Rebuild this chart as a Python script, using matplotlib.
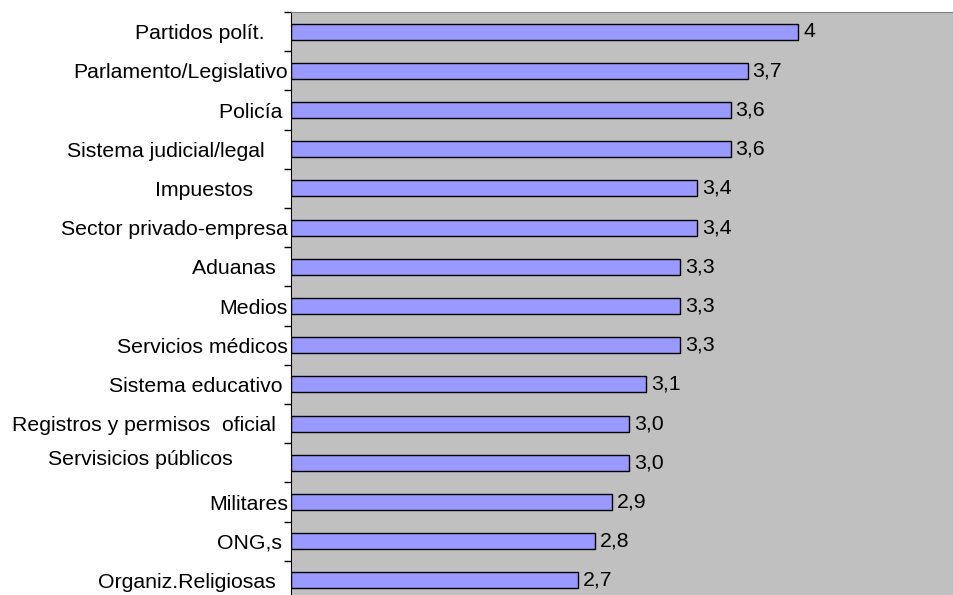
import numpy as np
import matplotlib
matplotlib.use('Agg')
import matplotlib.pyplot as plt
import matplotlib.transforms as mtransforms

plt.rcParams['font.family'] = ['Liberation Sans', 'DejaVu Sans']

# categories (trailing spaces as in the original labels)
categorias = ['Partidos polít.    ', 'Parlamento/Legislativo', 'Policía ',
              'Sistema judicial/legal    ', 'Impuestos      ',
              'Sector privado-empresa', 'Aduanas  ', 'Medios',
              'Servicios médicos', 'Sistema educativo ',
              'Registros y permisos  oficial  ', 'Servisicios públicos',
              'Militares', 'ONG,s ', 'Organiz.Religiosas  ']
valores = [4.0, 3.7, 3.6, 3.6, 3.4, 3.4, 3.3, 3.3, 3.3, 3.1, 3.0, 3.0, 2.9, 2.8, 2.7]
etiquetas = ['4', '3,7', '3,6', '3,6', '3,4', '3,4', '3,3', '3,3', '3,3',
             '3,1', '3,0', '3,0', '2,9', '2,8', '2,7']

fs = 15.3

fig = plt.figure(figsize=(9.54, 5.95), dpi=100)
ax = fig.add_axes([290.7/954, -5/595, 1 - 290.7/954, 588/595])
ax.set_facecolor('#C0C0C0')

y = np.arange(len(valores))
x0 = 1.0
ax.barh(y, np.array(valores) - x0, left=x0, height=0.41,
        color='#9999FF', edgecolor='black', linewidth=1.0)

for yi, v, t in zip(y, valores, etiquetas):
    ax.annotate(t, (v, yi), xytext=(3.5, 0), textcoords='offset points',
                ha='left', va='center', fontsize=fs)

ax.set_xlim(x0, 4.92)
ax.set_ylim(len(valores) - 0.5, -0.5)
ax.set_xticks([])

# category labels, ticks on boundaries
ax.set_yticks(y)
labels = list(categorias)
labels[11] = ''
ax.set_yticklabels(labels, fontsize=fs)
ax.tick_params(axis='y', which='major', length=0, pad=2)
ax.set_yticks(np.arange(len(valores) + 1) - 0.5, minor=True)
ax.tick_params(axis='y', which='minor', length=5, width=1, direction='out')

# the wrapped label sits centered and a bit higher in the original
trans = mtransforms.blended_transform_factory(fig.transFigure, ax.transData)
ax.text(140/954, 11 - 0.08, categorias[11], transform=trans,
        ha='center', va='center', fontsize=fs)

for s in ['right', 'bottom']:
    ax.spines[s].set_visible(False)
ax.spines['top'].set_color('#808080')
ax.spines['left'].set_color('black')

fig.savefig('out.png', dpi=100)
